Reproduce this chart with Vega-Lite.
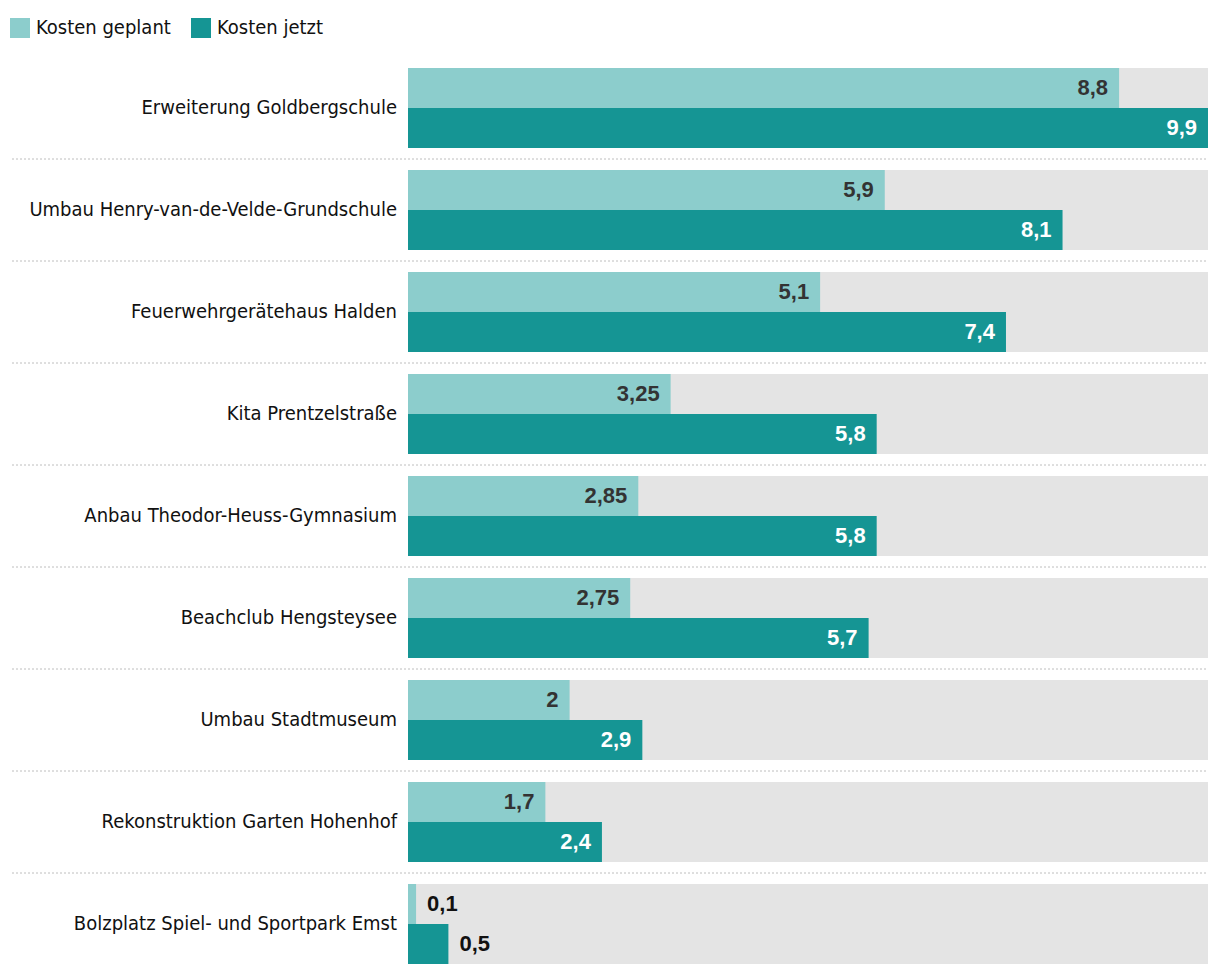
{
  "$schema": "https://vega.github.io/schema/vega-lite/v6.json",
  "autosize": "none",
  "width": 1196,
  "height": 896,
  "padding": {"left": 12, "top": 68, "right": 12, "bottom": 12},
  "background": "white",
  "config": {"view": {"stroke": null}, "font": "DejaVu Sans Condensed, sans-serif"},
  "data": {"values": [
    {"name": "Erweiterung Goldbergschule", "series": "Kosten geplant", "value": 8.8},
    {"name": "Erweiterung Goldbergschule", "series": "Kosten jetzt", "value": 9.9},
    {"name": "Umbau Henry-van-de-Velde-Grundschule", "series": "Kosten geplant", "value": 5.9},
    {"name": "Umbau Henry-van-de-Velde-Grundschule", "series": "Kosten jetzt", "value": 8.1},
    {"name": "Feuerwehrgerätehaus Halden", "series": "Kosten geplant", "value": 5.1},
    {"name": "Feuerwehrgerätehaus Halden", "series": "Kosten jetzt", "value": 7.4},
    {"name": "Kita Prentzelstraße", "series": "Kosten geplant", "value": 3.25},
    {"name": "Kita Prentzelstraße", "series": "Kosten jetzt", "value": 5.8},
    {"name": "Anbau Theodor-Heuss-Gymnasium", "series": "Kosten geplant", "value": 2.85},
    {"name": "Anbau Theodor-Heuss-Gymnasium", "series": "Kosten jetzt", "value": 5.8},
    {"name": "Beachclub Hengsteysee", "series": "Kosten geplant", "value": 2.75},
    {"name": "Beachclub Hengsteysee", "series": "Kosten jetzt", "value": 5.7},
    {"name": "Umbau Stadtmuseum", "series": "Kosten geplant", "value": 2},
    {"name": "Umbau Stadtmuseum", "series": "Kosten jetzt", "value": 2.9},
    {"name": "Rekonstruktion Garten Hohenhof", "series": "Kosten geplant", "value": 1.7},
    {"name": "Rekonstruktion Garten Hohenhof", "series": "Kosten jetzt", "value": 2.4},
    {"name": "Bolzplatz Spiel- und Sportpark Emst", "series": "Kosten geplant", "value": 0.1},
    {"name": "Bolzplatz Spiel- und Sportpark Emst", "series": "Kosten jetzt", "value": 0.5}
  ]},
  "transform": [{"calculate": "replace(toString(datum.value), '.', ',')", "as": "label"}],
  "layer": [
    {
      "mark": {"type": "bar", "color": "#e4e4e4"},
      "encoding": {
        "y": {"field": "name", "type": "nominal", "sort": null, "axis": null,
              "scale": {"paddingInner": 0.2157, "paddingOuter": 0}},
        "x": {"datum": 9.9, "type": "quantitative", "scale": {"domain": [-4.9005, 9.9], "nice": false, "zero": false}, "axis": null}
      }
    },
    {
      "transform": [{"filter": "datum.name != 'Erweiterung Goldbergschule'"}],
      "mark": {"type": "rule", "yOffset": -11, "color": "#d4d4d4", "strokeWidth": 1, "strokeDash": [2, 2]},
      "encoding": {
        "y": {"field": "name", "type": "nominal", "sort": null, "bandPosition": 0},
        "x": {"datum": -4.9005, "type": "quantitative"},
        "x2": {"datum": 9.9}
      }
    },
    {
      "mark": {"type": "bar"},
      "encoding": {
        "y": {"field": "name", "type": "nominal", "sort": null},
        "x": {"field": "value", "type": "quantitative"},
        "yOffset": {"field": "series", "type": "nominal", "scale": {"paddingInner": 0, "paddingOuter": 0}},
        "color": {"field": "series", "type": "nominal",
          "scale": {"domain": ["Kosten geplant", "Kosten jetzt"], "range": ["#8ccdcc", "#159594"]},
          "legend": {"title": null, "orient": "none", "legendX": -2, "legendY": -50, "direction": "horizontal",
            "symbolType": "square", "symbolSize": 400, "symbolStrokeWidth": 0, "labelFontSize": 20,
            "labelColor": "#111", "labelFont": "DejaVu Sans Condensed, sans-serif", "labelOffset": 6, "columnPadding": 20, "padding": 0}}
      }
    },
    {
      "mark": {"type": "text", "align": "right", "baseline": "middle", "dx": -11, "fontSize": 20, "color": "#111"},
      "transform": [{"filter": "datum.series == 'Kosten geplant'"}],
      "encoding": {
        "y": {"field": "name", "type": "nominal", "sort": null},
        "x": {"datum": 0, "type": "quantitative"},
        "text": {"field": "name", "type": "nominal"}
      }
    },
    {
      "transform": [{"filter": "datum.value >= 1"}],
      "mark": {"type": "text", "align": "right", "baseline": "middle", "dx": -11, "fontSize": 22, "fontWeight": "bold", "font": "Liberation Sans"},
      "encoding": {
        "y": {"field": "name", "type": "nominal", "sort": null},
        "x": {"field": "value", "type": "quantitative"},
        "yOffset": {"field": "series", "type": "nominal"},
        "text": {"field": "label", "type": "nominal"},
        "color": {"condition": {"test": "datum.series == 'Kosten jetzt'", "value": "white"}, "value": "#333333"}
      }
    },
    {
      "transform": [{"filter": "datum.value < 1"}],
      "mark": {"type": "text", "align": "left", "baseline": "middle", "dx": 11, "fontSize": 22, "fontWeight": "bold", "font": "Liberation Sans", "color": "#111"},
      "encoding": {
        "y": {"field": "name", "type": "nominal", "sort": null},
        "x": {"field": "value", "type": "quantitative"},
        "yOffset": {"field": "series", "type": "nominal"},
        "text": {"field": "label", "type": "nominal"}
      }
    }
  ]
}
